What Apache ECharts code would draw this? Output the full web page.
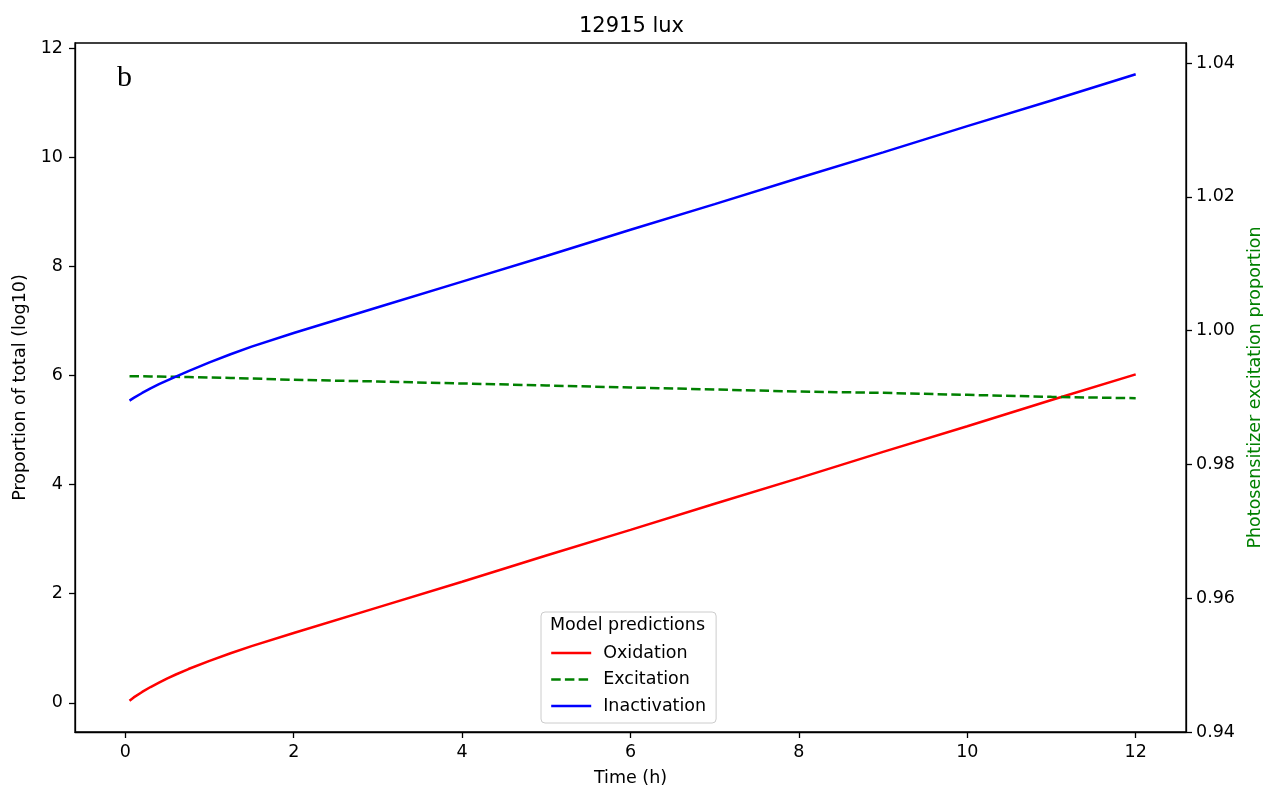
<!DOCTYPE html>
<html>
<head>
<meta charset="utf-8">
<script src="https://cdn.jsdelivr.net/npm/echarts@6/dist/echarts.min.js"></script>
<style>
  html, body { margin: 0; padding: 0; background: #fff; }
  #chart { width: 1263px; height: 787px; }
</style>
</head>
<body>
<div id="chart"></div>
<script>
// Model time points (hours)
const times = [0.05, 0.1, 0.2, 0.3, 0.4, 0.5, 0.6, 0.75, 1, 1.25, 1.5, 2, 3, 4, 5, 6, 7, 8, 9, 10, 11, 12];
// Oxidation, proportion of total (log10)
const oxidation = [0.04, 0.10, 0.20, 0.29, 0.37, 0.45, 0.52, 0.62, 0.77, 0.91, 1.04, 1.28, 1.75, 2.22, 2.70, 3.17, 3.65, 4.12, 4.60, 5.07, 5.55, 6.02];
// Inactivation, proportion of total (log10)
const inactivation = [5.54, 5.59, 5.68, 5.765, 5.84, 5.91, 5.98, 6.08, 6.24, 6.39, 6.53, 6.78, 7.25, 7.72, 8.19, 8.67, 9.14, 9.62, 10.09, 10.57, 11.04, 11.52];
// Photosensitizer excitation proportion (right axis)
const excitation = [0.9932, 0.99319, 0.99318, 0.99316, 0.99314, 0.99312, 0.9931, 0.99306, 0.9930, 0.99293, 0.99285, 0.99265, 0.9924, 0.9921, 0.9918, 0.9915, 0.9912, 0.9909, 0.9907, 0.9904, 0.9901, 0.9899];

const xTicks = [0, 2, 4, 6, 8, 10, 12];
const yLeftTicks = [0, 2, 4, 6, 8, 10, 12];
const yRightTicks = [0.94, 0.96, 0.98, 1.00, 1.02, 1.04];

const pairs = (xs, ys) => xs.map((x, i) => [x, ys[i]]);

const FONT = 'DejaVu Sans';
const FS = 17.5;

const axisCommon = {
  axisLine: { show: true, onZero: false, lineStyle: { color: '#000', width: 1.3 } },
  axisTick: { show: true, inside: false, length: 6, lineStyle: { color: '#000', width: 1.3 } },
  splitLine: { show: false },
  nameTextStyle: { fontFamily: FONT, fontSize: FS, color: '#000' }
};

const chart = echarts.init(document.getElementById('chart'), null, { renderer: 'canvas' });

chart.setOption({
  backgroundColor: '#fff',
  animation: false,
  title: {
    text: '12915 lux',
    left: 'center',
    top: 11,
    textStyle: { fontFamily: FONT, fontSize: 21, fontWeight: 'normal', color: '#000' }
  },
  grid: {
    left: 75, right: 77, top: 43, bottom: 55,
    outerBoundsMode: 'none',
    containLabel: false,
    show: true, borderColor: '#000', borderWidth: 1.3, backgroundColor: 'transparent'
  },
  xAxis: {
    type: 'value',
    min: -0.5975,
    max: 12.5975,
    name: 'Time (h)',
    nameLocation: 'middle',
    nameGap: 37,
    ...axisCommon,
    axisTick: { ...axisCommon.axisTick, customValues: xTicks },
    axisLabel: { customValues: xTicks, margin: 11, fontFamily: FONT, fontSize: FS, color: '#000' }
  },
  yAxis: [
    {
      type: 'value',
      min: -0.534,
      max: 12.094,
      position: 'left',
      name: 'Proportion of total (log10)',
      nameLocation: 'middle',
      nameGap: 43,
      ...axisCommon,
      axisTick: { ...axisCommon.axisTick, customValues: yLeftTicks },
      axisLabel: { customValues: yLeftTicks, margin: 12, fontFamily: FONT, fontSize: FS, color: '#000' }
    },
    {
      type: 'value',
      min: 0.94,
      max: 1.043,
      position: 'right',
      name: 'Photosensitizer excitation proportion',
      nameLocation: 'middle',
      nameGap: 60,
      ...axisCommon,
      nameTextStyle: { fontFamily: FONT, fontSize: FS, color: '#008000' },
      axisTick: { ...axisCommon.axisTick, customValues: yRightTicks },
      axisLabel: {
        customValues: yRightTicks, margin: 10, fontFamily: FONT, fontSize: FS, color: '#000',
        formatter: v => v.toFixed(2)
      }
    }
  ],
  legend: {
    orient: 'vertical',
    left: 541,
    top: 612,
    padding: [31, 10, 7, 9],
    itemWidth: 40,
    itemHeight: 14,
    itemGap: 6.5,
    backgroundColor: 'rgba(255,255,255,0.8)',
    borderColor: '#cccccc',
    borderWidth: 1,
    borderRadius: 4,
    itemStyle: { opacity: 0 },
    lineStyle: { width: 2.4 },
    textStyle: { fontFamily: FONT, fontSize: FS, color: '#000', lineHeight: 20, padding: [0, 0, 0, 7] },
    data: ['Oxidation', 'Excitation', 'Inactivation']
  },
  graphic: [
    {
      type: 'text',
      left: 550,
      top: 616,
      z: 100,
      style: { text: 'Model predictions', fontFamily: FONT, fontSize: FS, fill: '#000' }
    },
    {
      type: 'text',
      left: 117,
      top: 63,
      style: { text: 'b', fontFamily: 'Liberation Serif', fontSize: 30, fill: '#000' }
    }
  ],
  series: [
    {
      name: 'Oxidation',
      type: 'line',
      yAxisIndex: 0,
      data: pairs(times, oxidation),
      symbol: 'none',
      lineStyle: { color: '#ff0000', width: 2.5 },
      itemStyle: { color: '#ff0000' }
    },
    {
      name: 'Excitation',
      type: 'line',
      yAxisIndex: 1,
      data: pairs(times, excitation),
      symbol: 'none',
      lineStyle: { color: '#008000', width: 2.5, type: [9.5, 4.2] },
      itemStyle: { color: '#008000' }
    },
    {
      name: 'Inactivation',
      type: 'line',
      yAxisIndex: 0,
      data: pairs(times, inactivation),
      symbol: 'none',
      lineStyle: { color: '#0000ff', width: 2.5 },
      itemStyle: { color: '#0000ff' }
    }
  ]
});
</script>
</body>
</html>
